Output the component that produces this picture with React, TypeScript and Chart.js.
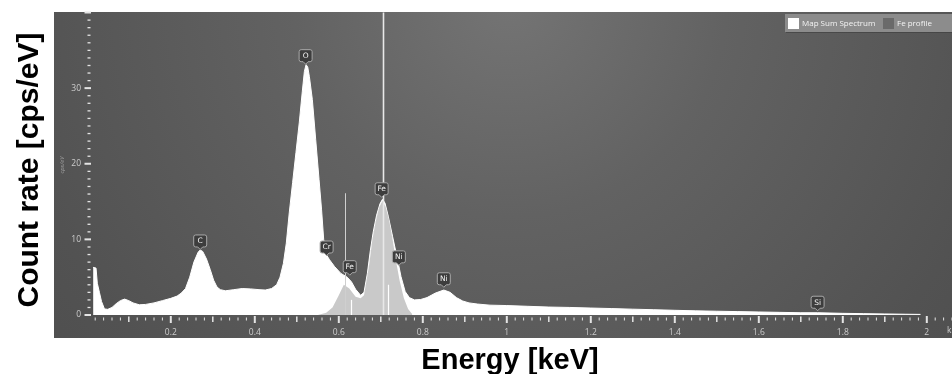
import React, { useEffect, useRef } from 'react';
import { Chart, registerables } from 'chart.js';

Chart.register(...registerables);

// ---- data ----
const specEnergy = [
  0.015, 0.022, 0.025, 0.03, 0.035, 0.042, 0.05, 0.06, 0.07, 0.08, 0.09, 0.1, 0.11, 0.125, 0.14, 0.16, 0.18, 0.2,
  0.215, 0.225, 0.235, 0.245, 0.255, 0.265, 0.27, 0.276, 0.285, 0.294, 0.302, 0.31, 0.318, 0.33, 0.35, 0.37, 0.39,
  0.41, 0.425, 0.44, 0.452, 0.46, 0.468, 0.475, 0.482, 0.49, 0.498, 0.506, 0.513, 0.518, 0.522, 0.526, 0.53, 0.537,
  0.545, 0.553, 0.559, 0.564, 0.57, 0.578, 0.59, 0.605, 0.62, 0.63, 0.64, 0.652, 0.66, 0.668, 0.675, 0.682, 0.69,
  0.698, 0.704, 0.71, 0.718, 0.728, 0.74, 0.748, 0.758, 0.768, 0.78, 0.795, 0.81, 0.83, 0.85, 0.865, 0.88, 0.895,
  0.91, 0.93, 0.96, 1.0, 1.05, 1.1, 1.15, 1.2, 1.25, 1.3, 1.35, 1.4, 1.45, 1.5, 1.55, 1.6, 1.65, 1.7, 1.74, 1.8,
  1.85, 1.9, 1.95, 1.985,
];
const specCounts = [
  6.3, 6.2, 4.2, 3.0, 1.8, 0.8, 0.75, 1.0, 1.5, 1.9, 2.1, 1.9, 1.6, 1.35, 1.4, 1.6, 1.9, 2.2,
  2.5, 2.9, 3.5, 5.0, 7.0, 8.3, 8.6, 8.4, 7.4, 6.0, 4.6, 3.7, 3.35, 3.2, 3.35, 3.5, 3.45,
  3.35, 3.3, 3.5, 4.0, 5.0, 6.8, 9.5, 13.5, 17.5, 21.5, 25.5, 29.5, 32.2, 33.1, 32.8, 31.5, 28.5,
  23.2, 17.9, 13.9, 10.0, 8.0, 7.3, 6.4, 5.5, 5.0, 4.4, 3.4, 2.6, 3.0, 5.5, 8.5, 11.0, 13.2,
  14.7, 15.3, 14.8, 13.0, 10.4, 7.3, 5.1, 3.1, 2.3, 2.0, 2.05, 2.3, 2.9, 3.3, 3.0, 2.3, 1.85,
  1.6, 1.45, 1.3, 1.25, 1.15, 1.05, 1.0, 0.92, 0.85, 0.77, 0.7, 0.62, 0.55, 0.5, 0.45, 0.4, 0.35, 0.3, 0.3, 0.22,
  0.18, 0.14, 0.1, 0.08,
];
const feEnergy = [
  0.55, 0.57, 0.585, 0.6, 0.612, 0.625, 0.64, 0.652, 0.66, 0.672, 0.68, 0.688, 0.696, 0.704, 0.712, 0.72, 0.728,
  0.736, 0.745, 0.755, 0.765, 0.775,
];
const feCounts = [
  0, 0.3, 1.0, 2.6, 4.0, 3.5, 2.4, 2.2, 2.6, 6.5, 10, 12.4, 14.2, 15.1, 14.2, 12.5, 10, 7.2, 4.5, 2.2, 0.8, 0.1,
];
const seriesNames = ['Map Sum Spectrum', 'Fe profile'];

const peakNames = ['C', 'O', 'Cr', 'Fe', 'Fe', 'Ni', 'Ni', 'Si'];
const peakEnergies = [0.27, 0.521, 0.571, 0.626, 0.702, 0.743, 0.85, 1.74];
const peakLevels = [8.6, 33.1, 7.8, 5.2, 15.5, 6.5, 3.6, 0.5];

const markerEnergies = [0.615, 0.628, 0.705, 0.718];
const markerTops = [16.1, 2.0, 40, 4.0];

const xMin = 0.01;
const xMax = 2.06;
const xStep = 0.02;
const yMin = 0;
const yMax = 40;
const yStep = 1;

const xTitle = 'Energy [keV]';
const yTitle = 'Count rate [cps/eV]';
const yUnit = 'cps/eV';
const xUnit = 'keV';

const toPoints = (xs: number[], ys: number[]) => xs.map((x, i) => ({ x, y: ys[i] }));

const decorPlugin = {
  id: 'decor',
  beforeDraw(chart: any) {
    const ctx = chart.ctx;
    const ca = chart.chartArea;
    const left = 54;
    const top = ca.top - 0.5;
    const right = chart.width;
    const bottom = 338;
    ctx.save();
    ctx.fillStyle = '#ffffff';
    ctx.fillRect(0, 0, chart.width, chart.height);
    const g = ctx.createRadialGradient(510, 0, 0, 510, 0, 720);
    g.addColorStop(0, '#747474');
    g.addColorStop(0.3, '#626262');
    g.addColorStop(0.7, '#525252');
    g.addColorStop(1, '#4a4a4a');
    ctx.fillStyle = g;
    ctx.fillRect(left, top, right - left, bottom - top);
    ctx.restore();
  },
  afterDatasetsDraw(chart: any) {
    const ctx = chart.ctx;
    const xs = chart.scales.x;
    const ys = chart.scales.y;
    const ca = chart.chartArea;
    ctx.save();
    // element marker lines
    markerEnergies.forEach((e, i) => {
      const px = Math.round(xs.getPixelForValue(e)) + 0.5;
      const py = ys.getPixelForValue(markerTops[i]);
      ctx.beginPath();
      ctx.moveTo(px, Math.max(py, ca.top));
      ctx.lineTo(px, ys.getPixelForValue(0));
      if (i === 0) { ctx.strokeStyle = '#cfcfcf'; ctx.lineWidth = 1; }
      else if (i === 2) { ctx.strokeStyle = '#e8e8e8'; ctx.lineWidth = 1.6; }
      else { ctx.strokeStyle = '#ffffff'; ctx.lineWidth = 1.2; }
      ctx.stroke();
    });
    // peak labels
    ctx.font = '7.5px "DejaVu Sans"';
    ctx.textAlign = 'center';
    ctx.textBaseline = 'middle';
    peakNames.forEach((name, i) => {
      const px = xs.getPixelForValue(peakEnergies[i]);
      const py = ys.getPixelForValue(peakLevels[i]);
      const w = 13, h = 12;
      const bx = px - w / 2, by = py - 3 - h;
      ctx.fillStyle = '#3d3d3d';
      ctx.strokeStyle = '#a8a8a8';
      ctx.lineWidth = 1;
      ctx.beginPath();
      ctx.moveTo(bx + 2, by);
      ctx.lineTo(bx + w - 2, by);
      ctx.quadraticCurveTo(bx + w, by, bx + w, by + 2);
      ctx.lineTo(bx + w, by + h - 2);
      ctx.quadraticCurveTo(bx + w, by + h, bx + w - 2, by + h);
      ctx.lineTo(px + 2.5, by + h);
      ctx.lineTo(px, by + h + 2.5);
      ctx.lineTo(px - 2.5, by + h);
      ctx.lineTo(bx + 2, by + h);
      ctx.quadraticCurveTo(bx, by + h, bx, by + h - 2);
      ctx.lineTo(bx, by + 2);
      ctx.quadraticCurveTo(bx, by, bx + 2, by);
      ctx.closePath();
      ctx.fill();
      ctx.stroke();
      ctx.fillStyle = '#f4f4f4';
      ctx.fillText(name, px, by + h / 2 + 0.5);
    });
    ctx.restore();
  },
  afterDraw(chart: any) {
    const ctx = chart.ctx;
    const xs = chart.scales.x;
    const ys = chart.scales.y;
    const ca = chart.chartArea;
    ctx.save();
    ctx.fillStyle = '#e4e4e4';
    // x tick marks
    xs.ticks.forEach((t: any) => {
      const k = Math.round(t.value / xStep);
      const px = xs.getPixelForValue(t.value);
      const y0 = ca.bottom;
      if (k % 10 === 0) ctx.fillRect(px - 1, y0 + 1, 2, 7);
      else if (k % 5 === 0) ctx.fillRect(px - 0.75, y0 + 1.5, 1.5, 5.5);
      else ctx.fillRect(px - 0.5, y0 + 2.5, 1, 3);
    });
    // y tick marks
    ys.ticks.forEach((t: any) => {
      const py = ys.getPixelForValue(t.value);
      const x1 = ca.left;
      if (Math.round(t.value) % 10 === 0) ctx.fillRect(x1 - 6.5, py - 1, 6.5, 2);
      else ctx.fillRect(x1 - 3.5, py - 0.6, 3, 1.3);
    });
    // unit labels
    ctx.fillStyle = '#cccccc';
    ctx.font = '8.5px "Open Sans"';
    ctx.textAlign = 'left';
    ctx.textBaseline = 'top';
    ctx.fillText(xUnit, ca.right - 5, ca.bottom + 11);
    ctx.save();
    ctx.translate(62, 165);
    ctx.rotate(-Math.PI / 2);
    ctx.font = 'italic 6px "Open Sans"';
    ctx.fillStyle = '#a0a0a0';
    ctx.textAlign = 'center';
    ctx.textBaseline = 'middle';
    ctx.fillText(yUnit, 0, 0);
    ctx.restore();
    // legend
    const lx = 785, ly = ca.top + 1.5, lh = 18;
    ctx.fillStyle = 'rgba(60,60,60,0.6)';
    ctx.fillRect(lx + 1, ly + 1, chart.width - lx, lh);
    ctx.fillStyle = '#8c8c8c';
    ctx.fillRect(lx, ly, chart.width - lx, lh);
    const ds = chart.data.datasets;
    ctx.font = '8px "Open Sans"';
    ctx.textBaseline = 'middle';
    ctx.textAlign = 'left';
    ctx.fillStyle = '#ffffff';
    ctx.fillRect(788, ly + 4, 11, 11);
    ctx.fillStyle = '#f4f4f4';
    ctx.fillText(ds[0].label, 802, ly + 9.5);
    ctx.fillStyle = '#6a6a6a';
    ctx.fillRect(883, ly + 4, 11, 11);
    ctx.fillStyle = '#f4f4f4';
    ctx.fillText(ds[1].label, 897, ly + 9.5);
    // axis titles
    ctx.fillStyle = '#000000';
    ctx.textAlign = 'center';
    ctx.textBaseline = 'alphabetic';
    ctx.font = 'bold 29px "Liberation Sans", Arial, sans-serif';
    ctx.fillText(xTitle, 510, 369);
    ctx.save();
    ctx.translate(38, 170);
    ctx.rotate(-Math.PI / 2);
    ctx.font = 'bold 30px "Liberation Sans", Arial, sans-serif';
    ctx.fillText(yTitle, 0, 0);
    ctx.restore();
    ctx.restore();
  },
};

export default function App() {
  const ref = useRef<HTMLCanvasElement | null>(null);
  useEffect(() => {
    if (!ref.current) return;
    const chart = new Chart(ref.current, {
      type: 'line',
      data: {
        datasets: [
          {
            label: seriesNames[0],
            data: toPoints(specEnergy, specCounts),
            borderColor: '#ffffff',
            backgroundColor: '#ffffff',
            borderWidth: 1,
            fill: 'origin',
            pointRadius: 0,
            tension: 0,
            order: 2,
          },
          {
            label: seriesNames[1],
            data: toPoints(feEnergy, feCounts),
            borderColor: '#c9c9c9',
            backgroundColor: '#c9c9c9',
            borderWidth: 0,
            fill: 'origin',
            pointRadius: 0,
            tension: 0,
            order: 1,
          },
        ],
      },
      options: {
        animation: false,
        responsive: false,
        devicePixelRatio: 1,
        layout: { padding: { top: 12.5, right: 0, left: 0, bottom: 0 } },
        plugins: { legend: { display: false }, tooltip: { enabled: false }, title: { display: false } },
        scales: {
          x: {
            type: 'linear',
            min: xMin,
            max: xMax,
            border: { display: false },
            grid: { display: false, drawTicks: false },
            ticks: {
              stepSize: xStep,
              autoSkip: false,
              maxRotation: 0,
              includeBounds: false,
              padding: 12,
              color: '#cccccc',
              font: { family: '"Open Sans"', size: 8.5 },
              callback: (v: any) => {
                const k = Math.round(Number(v) / xStep);
                if (k % 10 !== 0) return '';
                const val = Math.round(Number(v) * 10) / 10;
                return String(val);
              },
            },
            afterFit: (s: any) => {
              s.height = 59;
              s.paddingLeft = 0;
              s.paddingRight = 0;
            },
          },
          y: {
            type: 'linear',
            min: yMin,
            max: yMax,
            border: { display: false },
            grid: { display: false, drawTicks: false },
            ticks: {
              stepSize: yStep,
              autoSkip: false,
              padding: 10,
              color: '#cccccc',
              font: { family: '"Open Sans"', size: 8.5 },
              callback: (v: any) => {
                const n = Math.round(Number(v));
                return n % 10 === 0 && n < yMax ? String(n) : '';
              },
            },
            afterFit: (s: any) => {
              s.width = 91;
              s.paddingTop = 0;
              s.paddingBottom = 0;
            },
          },
        },
      },
      plugins: [decorPlugin],
    } as any);
    return () => chart.destroy();
  }, []);
  return (
    <div style={{ position: 'absolute', left: 0, top: 0, width: 952, height: 374 }}>
      <canvas ref={ref} width={952} height={374} style={{ display: 'block' }} />
    </div>
  );
}
